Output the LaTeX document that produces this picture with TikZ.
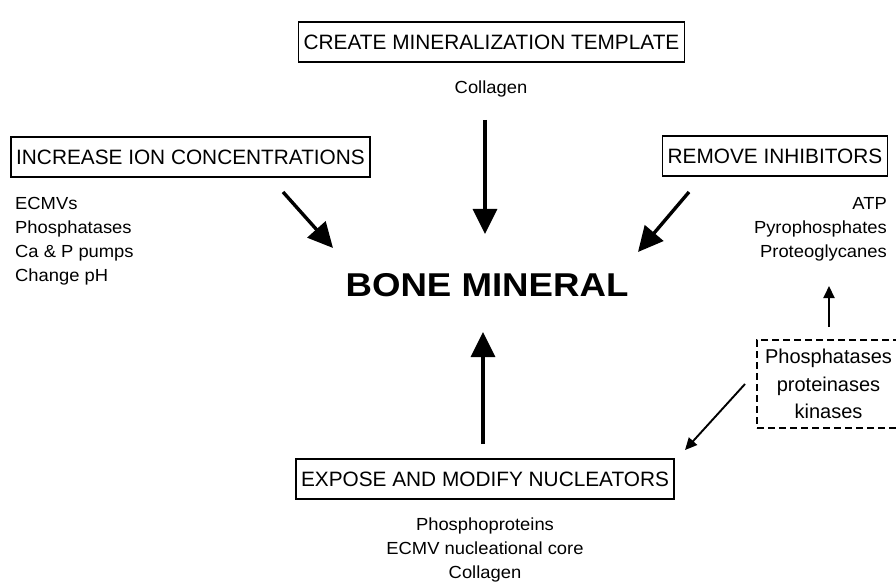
\documentclass[tikz,border=0pt]{standalone}
\usepackage{fontspec}
\setmainfont{Liberation Sans}
\newfontfamily\widefont[FakeStretch=1.11]{Liberation Sans}
\newfontfamily\listfont[FakeStretch=1.05]{Liberation Sans}
\usetikzlibrary{arrows.meta}
\begin{document}
\begin{tikzpicture}[x=1pt,y=-1pt,
  stagebox/.style={draw,line width=1.5pt,inner xsep=5pt,minimum height=40pt,font=\fontsize{20.8}{24}\selectfont},
  listtxt/.style={inner sep=0pt,font=\listfont\fontsize{17.5}{24}\selectfont},
  bigarrow/.style={line width=3.4pt,-{Triangle[length=25pt,width=24pt]}},
  smallarrow/.style={line width=1.9pt,-{Triangle[length=12pt,width=11pt]}}]
\useasboundingbox (0,0) rectangle (896,585);
\node[stagebox] (tmpl) at (491.5,42) {CREATE MINERALIZATION TEMPLATE};
\node[listtxt] (coll) at (491,89) {Collagen};
\node[stagebox] (ion) at (190.5,157) {INCREASE ION CONCENTRATIONS};
\node[listtxt,align=left,anchor=north west] (ionlist) at (15,197) {ECMVs\\Phosphatases\\Ca \& P pumps\\Change pH};
\node[stagebox] (inh) at (775,156) {REMOVE INHIBITORS};
\node[listtxt,align=right,anchor=north east] (inhlist) at (887,197) {ATP\\Pyrophosphates\\Proteoglycanes};
\node[inner sep=0pt,font=\widefont\fontsize{33}{36}\selectfont\bfseries] (bone) at (487,285) {BONE MINERAL};
\node[draw,dash pattern=on 7pt off 4pt,line width=1.5pt,minimum width=143pt,minimum height=88pt,align=center,inner sep=0pt,font=\fontsize{20}{27.5}\selectfont] (enz) at (828.5,384) {Phosphatases\\proteinases\\kinases};
\node[stagebox] (nuc) at (485,479) {EXPOSE AND MODIFY NUCLEATORS};
\node[listtxt,align=center,anchor=north] (nuclist) at (485,518) {Phosphoproteins\\ECMV nucleational core\\Collagen};
\coordinate (a1s) at (485,120); \coordinate (a1e) at (485,234);
\coordinate (a2s) at (283,192); \coordinate (a2e) at (333,248);
\coordinate (a3s) at (689,192); \coordinate (a3e) at (638,252);
\coordinate (a4s) at (483,444); \coordinate (a4e) at (483,332);
\coordinate (a5s) at (829,327); \coordinate (a5e) at (829,286);
\coordinate (a6s) at (745,384); \coordinate (a6e) at (685,450);
\draw[bigarrow] (a1s) -- (a1e);
\draw[bigarrow] (a2s) -- (a2e);
\draw[bigarrow] (a3s) -- (a3e);
\draw[bigarrow] (a4s) -- (a4e);
\draw[smallarrow] (a5s) -- (a5e);
\draw[smallarrow] (a6s) -- (a6e);
\end{tikzpicture}
\end{document}
